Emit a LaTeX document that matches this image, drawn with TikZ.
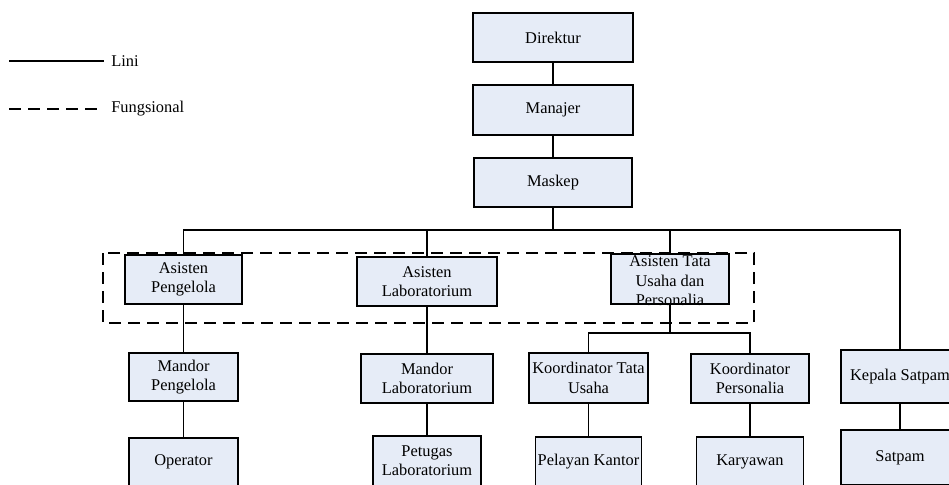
\documentclass[tikz,border=0pt]{standalone}
\usepackage{fontspec}
\setmainfont{Liberation Serif}
\usepackage{tikz}
\definecolor{boxfill}{RGB}{230,236,247}

\begin{document}
\begin{tikzpicture}[x=0.5pt,y=-0.5pt,line width=0.65pt,
    jabatan/.style={draw=black,fill=boxfill,align=center,inner sep=0pt,
      font=\fontsize{8.2}{9.7}\selectfont},
    fungsional/.style={dashed,dash pattern=on 6pt off 3.5pt},
    ket/.style={anchor=west,font=\fontsize{8.2}{9.7}\selectfont}]
      \clip (0,0) rectangle (949,484);

      % keterangan
      \coordinate (lA) at (9,61); \coordinate (fA) at (9,109);
      \node[ket] (lini) at (104,61) {Lini};
      \node[ket] (fung) at (104,109) {Fungsional};
      \draw (lA) -- (lini.west);
      \draw[fungsional] (fA) -- (fung.west);

      \node[jabatan,minimum width=80pt,minimum height=24.5pt] (dir) at (553,37.5) {Direktur};
      \node[jabatan,minimum width=80pt,minimum height=25pt] (man) at (553,110) {Manajer};
      \node[jabatan,minimum width=79pt,minimum height=24.5pt] (mas) at (553,182.5) {Maskep};

      \node[jabatan,minimum width=58.5pt,minimum height=24.5pt] (ap) at (183.5,279.5) {Asisten\\Pengelola};
      \node[jabatan,minimum width=70pt,minimum height=24.5pt] (al) at (427,281.5) {Asisten\\Laboratorium};
      \node[jabatan,minimum width=59pt,minimum height=25pt] (atu) at (670,279) {};
      \node[align=center,inner sep=0pt,font=\fontsize{8.2}{9.7}\selectfont] (atutext) at (670,281) {Asisten Tata\\Usaha dan\\Personalia};

      \node[jabatan,minimum width=54.5pt,minimum height=24pt] (mp) at (183.5,377) {Mandor\\Pengelola};
      \node[jabatan,minimum width=54.5pt,minimum height=24pt] (op) at (183.5,462) {Operator};
      \node[jabatan,minimum width=66pt,minimum height=24.5pt] (ml) at (427,378.5) {Mandor\\Laboratorium};
      \node[jabatan,minimum width=54pt,minimum height=25pt] (pl) at (427,461) {Petugas\\Laboratorium};
      \node[jabatan,minimum width=59.5pt,minimum height=25pt] (ktu) at (588.5,378) {Koordinator Tata\\Usaha};
      \node[jabatan,minimum width=53pt,minimum height=25pt] (pk) at (588.5,462) {Pelayan Kantor};
      \node[jabatan,minimum width=59pt,minimum height=24.5pt] (kp) at (750,378.5) {Koordinator\\Personalia};
      \node[jabatan,minimum width=53.5pt,minimum height=25pt] (kar) at (750,462) {Karyawan};
      \node[jabatan,minimum width=59pt,minimum height=26.5pt] (ks) at (900,376.5) {Kepala Satpam};
      \node[jabatan,minimum width=59pt,minimum height=27.5pt] (sat) at (900,457.5) {Satpam};

      \coordinate (bus) at (553,230); \coordinate (cab) at (670,333);

      \draw (dir) -- (man);
      \draw (man) -- (mas);
      \draw (mas) -- (bus);
      \draw (ap.north) -- (ap.north |- bus) -| (ks.north);
      \draw (al.north) -- (al.north |- bus);
      \draw (atu.north) -- (atu.north |- bus);
      \draw (atu.south) -- (cab);
      \draw (ktu.north) -- (ktu.north |- cab) -| (kp.north);

      \draw (ap) -- (mp);
      \draw (mp) -- (op);
      \draw (al) -- (ml);
      \draw (ml) -- (pl);
      \draw (ktu) -- (pk);
      \draw (kp) -- (kar);
      \draw (ks) -- (sat);

      \draw[fungsional] (103,253) rectangle (754,323);
    \end{tikzpicture}
\end{document}
